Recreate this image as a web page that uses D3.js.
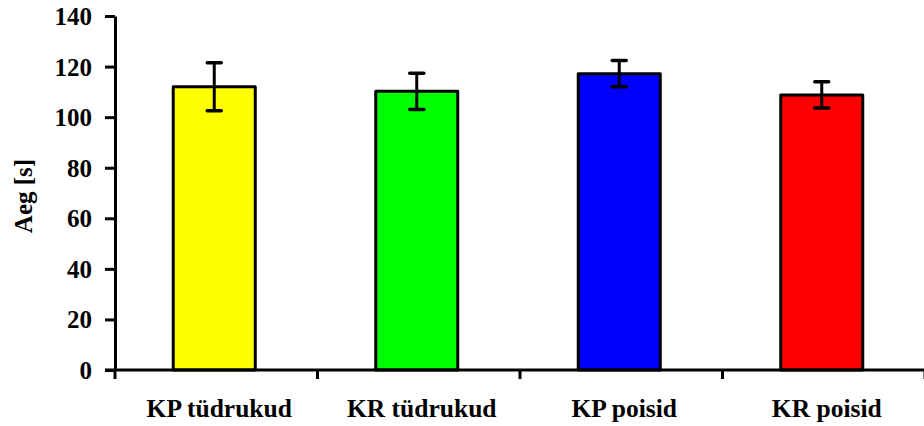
<!DOCTYPE html>
<html>
<head>
<meta charset="utf-8">
<script src="https://cdn.jsdelivr.net/npm/d3@7"></script>
<style>
  body { margin: 0; background: #fff; }
  text { font-family: "Liberation Serif", "Times New Roman", serif; font-weight: bold; fill: #000; }
</style>
</head>
<body>
<svg id="chart" width="924" height="426"></svg>
<script>
var categories = ["KP tüdrukud", "KR tüdrukud", "KP poisid", "KR poisid"];
var means = [112, 110.2, 117.2, 108.8];
var errors = [9.5, 7.2, 5.2, 5.2];
var colors = ["#ffff00", "#00ff00", "#0000ff", "#ff0000"];
var yTicks = [0, 20, 40, 60, 80, 100, 120, 140];

var svg = d3.select("#chart");

var plotLeft = 115, plotRight = 925, plotTop = 16, plotBottom = 370;

var xOuter = d3.scaleBand()
    .domain(categories)
    .range([plotLeft, plotRight])
    .padding(0);

var x = d3.scaleBand()
    .domain(categories)
    .range([plotLeft, plotRight])
    .paddingInner(0.595)
    .paddingOuter(0.2975);

var y = d3.scaleLinear()
    .domain([0, 140])
    .range([plotBottom, plotTop]);

// bars
svg.selectAll("rect.bar")
    .data(means)
  .enter().append("rect")
    .attr("class", "bar")
    .attr("x", function(d, i) { return x(categories[i]) - 2; })
    .attr("y", function(d) { return y(d); })
    .attr("width", x.bandwidth())
    .attr("height", function(d) { return y(0) - y(d); })
    .attr("fill", function(d, i) { return colors[i]; })
    .attr("stroke", "#000")
    .attr("stroke-width", 3)
    .attr("stroke-linejoin", "round");

// error bars
var err = svg.selectAll("g.err")
    .data(means)
  .enter().append("g")
    .attr("class", "err")
    .attr("transform", function(d, i) {
      return "translate(" + (x(categories[i]) - 2 + x.bandwidth() / 2) + ",0)"; });

err.append("line")
    .attr("x1", 0).attr("x2", 0)
    .attr("y1", function(d, i) { return y(d + errors[i]); })
    .attr("y2", function(d, i) { return y(d - errors[i]); })
    .attr("stroke", "#000").attr("stroke-width", 3);

err.selectAll("line.cap")
    .data(function(d, i) { return [d + errors[i], d - errors[i]]; })
  .enter().append("line")
    .attr("class", "cap")
    .attr("x1", -7).attr("x2", 7)
    .attr("y1", function(v) { return y(v); })
    .attr("y2", function(v) { return y(v); })
    .attr("stroke", "#000").attr("stroke-width", 3.5)
    .attr("stroke-linecap", "round");

// y axis
var yAxis = svg.append("g")
    .attr("transform", "translate(" + plotLeft + ",0)")
    .call(d3.axisLeft(y).tickValues(yTicks).tickSize(10).tickPadding(13).tickSizeOuter(0));

yAxis.select(".domain").attr("stroke", "#000").attr("stroke-width", 3);
yAxis.selectAll(".tick line").attr("stroke-width", 3);
yAxis.selectAll(".tick text")
    .attr("dy", "0.34em")
    .style("font-size", "25px")
    .style("font-family", "Liberation Serif, serif")
    .style("font-weight", "bold");

// x axis
svg.append("line")
    .attr("x1", plotLeft - 10).attr("x2", 924)
    .attr("y1", plotBottom).attr("y2", plotBottom)
    .attr("stroke", "#000").attr("stroke-width", 3);

var bounds = categories.map(function(c) { return xOuter(c); }).concat([plotRight]);
svg.selectAll("line.xtick")
    .data(bounds)
  .enter().append("line")
    .attr("class", "xtick")
    .attr("x1", function(d) { return d; })
    .attr("x2", function(d) { return d; })
    .attr("y1", plotBottom)
    .attr("y2", plotBottom + 9)
    .attr("stroke", "#000").attr("stroke-width", 3);

svg.selectAll("text.xlabel")
    .data(categories)
  .enter().append("text")
    .attr("class", "xlabel")
    .attr("x", function(d) { return xOuter(d) + xOuter.bandwidth() / 2 + 3; })
    .attr("y", 417)
    .attr("text-anchor", "middle")
    .style("font-size", "25.5px")
    .text(function(d) { return d; });

// y title
svg.append("text")
    .attr("transform", "translate(32,196) rotate(-90)")
    .attr("text-anchor", "middle")
    .style("font-size", "25px")
    .text("Aeg [s]");
</script>
</body>
</html>
